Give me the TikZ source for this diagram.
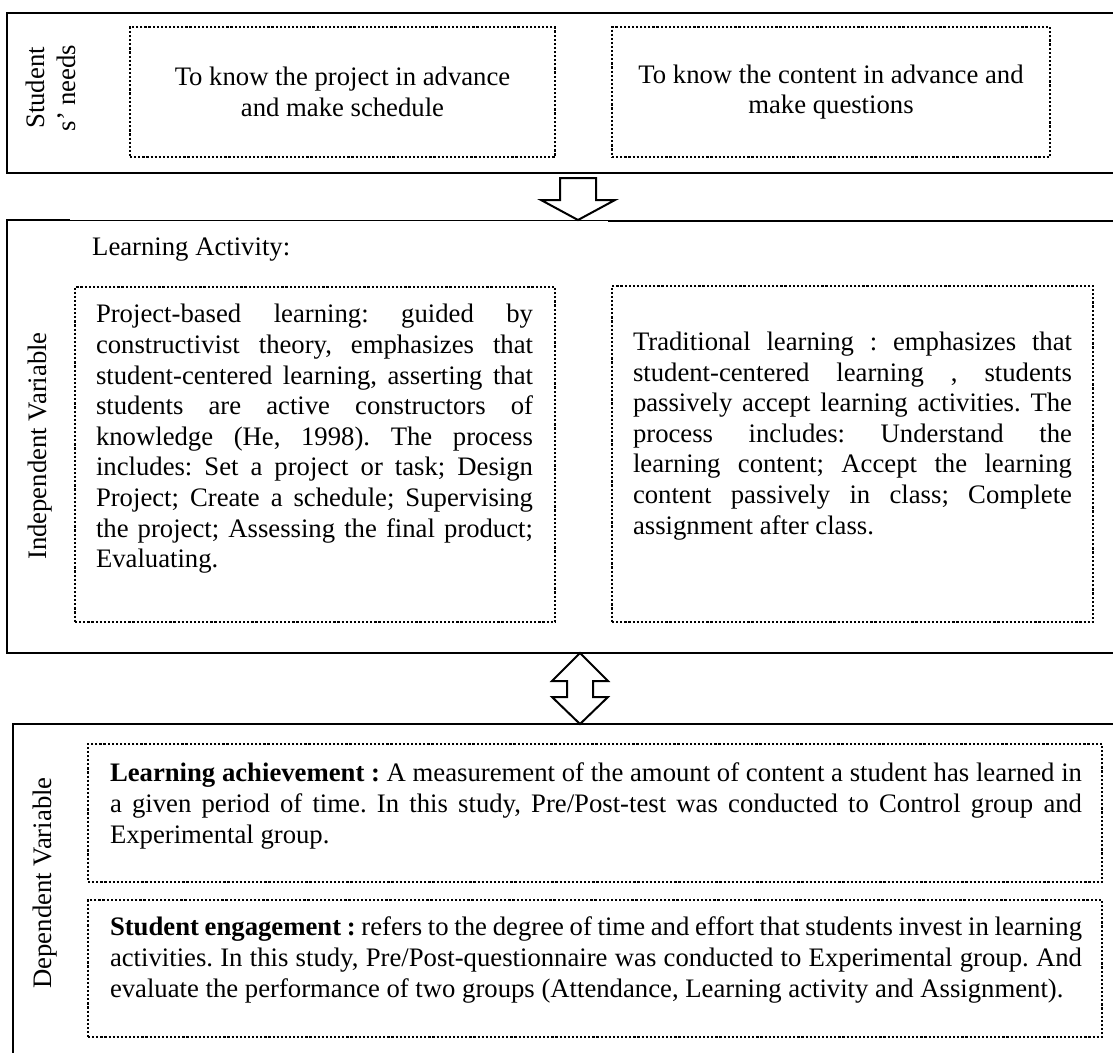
\documentclass[tikz,border=0pt]{standalone}
\usepackage{fontspec}
\setmainfont{Liberation Serif}
\usepackage{tikz}
\usetikzlibrary{positioning,calc}
\hyphenpenalty=10000
\exhyphenpenalty=10000
\tolerance=9999
\frenchspacing

\begin{document}
\begin{tikzpicture}[
  x=1pt,y=-1pt,
  font=\fontsize{26.7}{30.6}\selectfont,
  frame/.style={line width=2.6pt},
  dbox/.style={draw,line width=2.3pt,dash pattern=on 2.2pt off 1.9pt,inner sep=0pt},
  side/.style={rotate=90,align=center,inner sep=0pt},
  para/.style={align=justify,inner sep=0pt},
  blk/.style={draw,line width=2pt,fill=white,line join=miter}
]
\useasboundingbox (0,0) rectangle (1113,1052);
\draw[frame] (1125,13) -- (7,13) -- (7,173) -- (1125,173);
\draw[frame] (70,220) -- (7,220) -- (7,653) -- (1125,653);
\draw[frame] (608,221) -- (1125,221);
\draw[line width=1pt] (70,220) -- (608,220);
\draw[frame] (1125,724) -- (13,724) -- (13,1065);
\node[side] (needs) at (51,88) {Student\\s' needs};
\node[dbox,align=center,minimum width=425pt,minimum height=130pt] (proj) at (342.5,92) {To know the project in advance\\and make schedule};
\node[dbox,align=center,minimum width=438pt,minimum height=130pt] (cont) at (831,92) {To know the content in advance and\\make questions};
\coordinate (dn) at (578,178);
\draw[blk] (dn) +(-18,0) -- +(18,0) -- +(18,22) -- +(37,22) -- +(0,42) -- +(-37,22) -- +(-18,22) -- cycle;
\node[side] (indep) at (40,446) {Independent Variable};
\node[anchor=west,inner sep=0pt] (act) at (92,250) {Learning Activity:};
\node[dbox,minimum width=480pt,minimum height=335pt] (pbl) at (315,454.5) {};
\node[para,text width=437pt] (pbltxt) at (314.5,439) {Project-based learning: guided by\linebreak constructivist theory, emphasizes that\linebreak student-centered learning, asserting that\linebreak students are active constructors of\linebreak knowledge (He, 1998). The process\linebreak includes: Set a project or task; Design\linebreak Project; Create a schedule; Supervising\linebreak the project; Assessing the final product;\linebreak Evaluating.};
\node[dbox,minimum width=481pt,minimum height=336pt] (trad) at (852.5,454) {};
\node[para,text width=439pt] (tradtxt) at (852.5,436) {Traditional learning : emphasizes that\linebreak student-centered learning , students\linebreak passively accept learning activities. The\linebreak process includes: Understand the\linebreak learning content; Accept the learning\linebreak content passively in class; Complete\linebreak assignment after class.};
\coordinate (ud) at (580,653);
\draw[blk] (ud) -- +(28,28) -- +(13,28) -- +(13,44) -- +(28,44) -- +(0,71) -- +(-28,44) -- +(-13,44) -- +(-13,28) -- +(-28,28) -- cycle;
\node[side] (dep) at (45,883) {Dependent Variable};
\node[dbox,minimum width=1014pt,minimum height=138pt] (ach) at (595,813) {};
\node[para,text width=972pt] (achtxt) at (596,806) {\textbf{Learning achievement :} A measurement of the amount of content a student has learned in\linebreak a given period of time. In this study, Pre/Post-test was conducted to Control group and\linebreak Experimental group.};
\node[dbox,minimum width=1014pt,minimum height=137pt] (eng) at (595,968.5) {};
\node[para,text width=972pt] (engtxt) at (596,960) {\textbf{Student engagement :} refers to the degree of time and effort that students invest in learning\linebreak activities. In this study, Pre/Post-questionnaire was conducted to Experimental group. And\linebreak evaluate the performance of two groups (Attendance, Learning activity and Assignment).};
\end{tikzpicture}
\end{document}
